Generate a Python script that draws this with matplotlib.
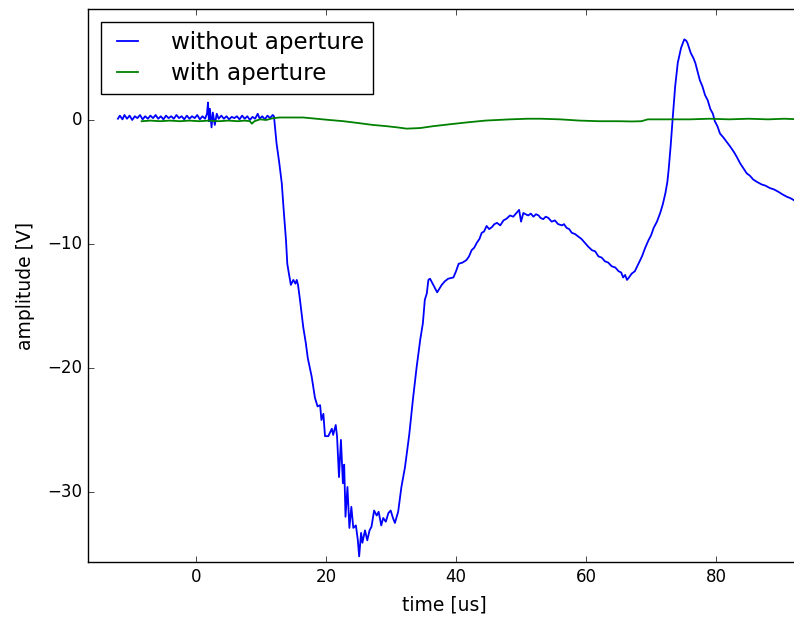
import matplotlib
matplotlib.use('Agg')
import matplotlib.pyplot as plt

# time [us] / amplitude [V]
t_without = [-12.0, -11.7, -11.3, -11.0, -10.6, -10.2, -9.8, -9.4, -9.0, -8.6,
             -8.2, -7.8, -7.4, -7.0, -6.6, -6.2, -5.8, -5.4, -5.0, -4.6,
             -4.2, -3.8, -3.4, -3.0, -2.6, -2.2, -1.8, -1.4, -1.0, -0.6,
             -0.2, 0.2, 0.6, 1.0, 1.4, 1.7, 1.85, 2.0, 2.15, 2.4,
             2.6, 2.9, 3.2, 3.5, 3.9, 4.3, 4.7, 5.1, 5.5, 5.9,
             6.3, 6.7, 7.1, 7.5, 7.9, 8.3, 8.7, 9.1, 9.5, 9.8,
             10.2, 10.6, 11.0, 11.4, 11.8,
             12.0, 12.15, 12.4, 12.8, 13.2, 13.5, 13.85, 14.05, 14.3, 14.6,
             14.97, 15.3, 15.5, 15.7, 16.0, 16.5, 16.9, 17.2, 17.8, 18.3,
             18.7, 19.1, 19.3, 19.6, 19.85, 20.35, 20.9, 21.1, 21.5, 21.7,
             22.0, 22.3, 22.6, 22.8, 23.0, 23.3, 23.6, 23.9, 24.2, 24.6,
             24.9, 25.1, 25.4, 25.6, 26.0, 26.35, 26.7, 27.0, 27.4, 27.8,
             28.1, 28.5, 28.8, 29.2, 29.6, 29.95, 30.3, 30.6, 31.1, 31.6,
             32.15, 32.8, 33.4, 33.95, 34.5, 34.9, 35.2, 35.5, 35.75, 36.0,
             36.5, 37.1, 37.8, 38.3, 38.8, 39.6, 40.0, 40.4, 41.0, 41.6,
             42.0, 42.4, 42.8, 43.2, 43.6, 43.95, 44.3, 44.7, 45.1, 45.5,
             45.9, 46.3, 46.8, 47.3, 47.8, 48.3, 48.8, 49.3, 49.7, 50.0,
             50.35, 50.7, 51.1, 51.5, 51.9, 52.3, 52.7, 53.0, 53.4, 53.8,
             54.2, 54.7, 55.2, 55.7, 56.3, 56.6, 57.0, 57.4, 57.8, 58.3,
             58.8, 59.3, 59.8, 60.3, 60.9, 61.4, 61.9, 62.4, 62.9, 63.4,
             63.95, 64.5, 65.0, 65.4, 65.7, 66.0, 66.3, 66.6, 67.0, 67.5,
             68.05, 68.6, 69.1, 69.6, 70.0, 70.4, 70.9, 71.4, 71.8, 72.2,
             72.5, 72.7, 73.0, 73.3, 73.7, 74.1, 74.6, 75.1, 75.4, 75.6,
             76.1, 76.5, 76.8, 77.2, 77.5, 77.9, 78.3, 78.7, 79.1, 79.5,
             79.8, 80.2, 80.6, 81.1, 81.6, 82.1, 82.7, 83.2, 83.7, 84.2,
             84.7, 85.2, 85.7, 86.3, 87.0, 87.6, 88.3, 88.9, 89.6, 90.2,
             90.9, 91.4, 91.9, 92.9]
v_without = [0.1, 0.35, 0.05, 0.4, 0.1, 0.35, 0.0, 0.3, 0.15, 0.4,
             0.05, 0.3, 0.1, 0.35, 0.15, 0.4, 0.1, 0.3, 0.05, 0.35,
             0.15, 0.3, 0.1, 0.4, 0.15, 0.3, 0.05, 0.35, 0.1, 0.3,
             0.15, 0.4, 0.05, 0.3, 0.1, 0.5, 1.4, -0.1, 0.9, -0.6,
             0.6, -0.4, 0.5, 0.1, 0.35, 0.1, 0.3, 0.05, 0.25, 0.15,
             0.3, 0.05, 0.35, 0.1, 0.3, 0.0, 0.25, 0.1, 0.5, 0.1,
             0.3, 0.05, 0.35, 0.15, 0.4,
             0.3, -0.5, -1.9, -3.4, -5.1, -7.3, -9.7, -11.6, -12.4, -13.3,
             -12.9, -13.2, -12.9, -13.3, -14.5, -16.7, -18.0, -19.2, -20.7, -22.4,
             -23.1, -23.0, -24.2, -23.7, -25.5, -25.5, -24.9, -25.4, -24.6, -25.5,
             -28.8, -25.8, -29.3, -27.8, -32.0, -29.6, -32.9, -31.2, -32.9, -32.7,
             -33.9, -35.2, -33.3, -34.1, -33.1, -33.9, -33.1, -32.8, -31.5, -31.9,
             -31.6, -32.7, -32.1, -32.4, -31.7, -31.5, -32.1, -32.5, -31.6, -29.6,
             -28.0, -25.4, -22.4, -19.9, -17.7, -16.4, -14.5, -14.0, -12.9, -12.8,
             -13.3, -13.9, -13.3, -13.0, -12.8, -12.7, -12.2, -11.6, -11.5, -11.3,
             -11.0, -10.5, -10.3, -9.9, -9.6, -9.1, -9.0, -8.55, -8.8, -8.65,
             -8.4, -8.3, -8.5, -8.1, -7.95, -7.7, -7.8, -7.5, -7.25, -8.2,
             -7.5, -7.6, -7.7, -7.55, -7.8, -7.6, -7.7, -7.9, -8.0, -7.8,
             -7.9, -8.2, -8.1, -8.4, -8.5, -8.4, -8.7, -8.8, -9.1, -9.2,
             -9.4, -9.6, -9.9, -10.2, -10.5, -10.6, -11.0, -11.1, -11.4, -11.5,
             -11.8, -11.9, -12.2, -12.3, -12.7, -12.5, -12.9, -12.7, -12.4, -12.2,
             -11.6, -11.0, -10.3, -9.7, -9.3, -8.7, -8.2, -7.5, -6.8, -5.9,
             -5.0, -4.0, -2.15, 0.0, 2.7, 4.6, 5.8, 6.5, 6.4, 6.2,
             5.4, 5.0, 4.6, 3.8, 3.2, 2.7, 2.0, 1.6, 0.9, 0.5,
             -0.1, -0.5, -1.1, -1.4, -1.75, -2.1, -2.55, -3.0, -3.5, -3.9,
             -4.3, -4.5, -4.8, -5.0, -5.2, -5.3, -5.5, -5.6, -5.8, -6.0,
             -6.2, -6.3, -6.45, -6.8]

t_with = [-8.35, -7.0, -5.5, -4.0, -2.5, -1.0, 0.5, 2.0, 3.5, 5.0,
          6.5, 7.5, 8.3, 8.6, 9.0, 9.85, 10.8, 11.9, 12.9, 14.5,
          16.5, 18.5, 20.5, 22.7, 25.0, 27.2, 29.3, 31.0, 32.4, 34.5,
          36.5, 39.0, 41.6, 44.5, 48.3, 51.0, 53.0, 56.0, 59.0, 62.0,
          65.0, 67.0, 68.5, 69.5, 71.0, 73.0, 76.0, 79.0, 82.0, 85.0,
          88.0, 90.5, 92.9]
v_with = [-0.1, -0.05, -0.1, -0.05, -0.1, -0.05, -0.1, -0.05, -0.1, -0.05,
          -0.1, -0.05, -0.1, -0.3, -0.1, 0.05, 0.0, 0.15, 0.2, 0.2,
          0.2, 0.1, 0.0, -0.1, -0.25, -0.4, -0.5, -0.6, -0.7, -0.65,
          -0.5, -0.35, -0.2, -0.05, 0.05, 0.1, 0.1, 0.05, -0.05, -0.1,
          -0.1, -0.12, -0.1, 0.05, 0.05, 0.05, 0.05, 0.1, 0.05, 0.1,
          0.05, 0.1, 0.05]

plt.style.use('classic')
plt.rcParams['font.family'] = ['DejaVu Sans']

fig = plt.figure(figsize=(7.94, 6.20), dpi=100, facecolor='white')
ax = fig.add_axes([88 / 794, 58 / 620, 712 / 794, 553 / 620])

ax.plot(t_without, v_without, color='b', linewidth=1.3, label='without aperture')
ax.plot(t_with, v_with, color='g', linewidth=1.3, label='with aperture')

ax.set_xlim(-16.6, 92.9)
ax.set_ylim(-35.65, 8.95)
ax.set_xticks([0, 20, 40, 60, 80])
ax.set_yticks([-30, -20, -10, 0])
ax.set_xlabel('time [us]', fontsize=13.5, labelpad=7)
ax.set_ylabel('amplitude [V]', fontsize=13.5, labelpad=9)

ax.legend(loc='upper left', fontsize=16.6, handlelength=1.5, handletextpad=1.15,
          borderaxespad=0.55, labelspacing=0.35)

fig.savefig('out.png', dpi=100, facecolor='white')
